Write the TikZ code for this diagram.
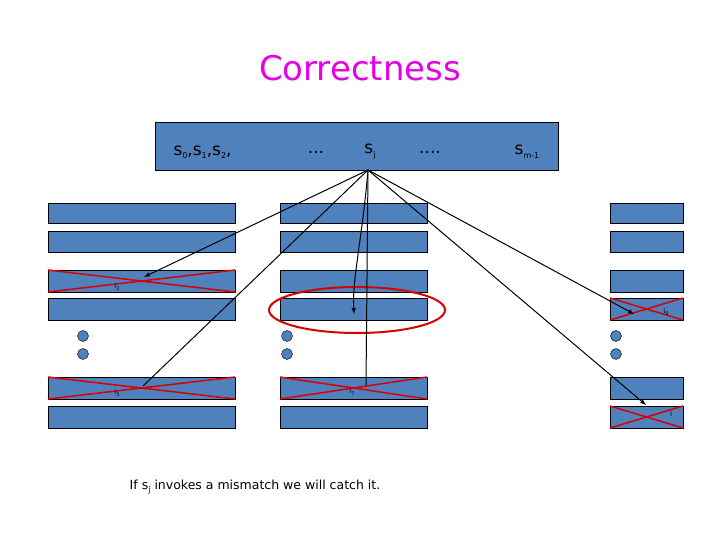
\documentclass[tikz,border=0pt]{standalone}
\usepackage{fontspec}
\setmainfont{DejaVu Sans}
\begin{document}
\begin{tikzpicture}[x=1pt,y=-1pt,
  bar/.style={draw=black,fill={rgb,255:red,79;green,129;blue,189},line width=0.6pt},
  dotc/.style={circle,draw=black,fill={rgb,255:red,79;green,129;blue,189},minimum size=11pt,inner sep=0pt,line width=0.4pt},
  cross/.style={draw=red!85!black,line width=1.5pt},
  conn/.style={draw=black,line width=1pt},
  arr/.style={conn,-latex},
  lab/.style={font=\fontsize{7}{8}\selectfont,inner sep=0pt}]
\useasboundingbox (0,0) rectangle (720,540);
\node[text={rgb,255:red,230;green,0;blue,230},font=\fontsize{34}{40}\selectfont] (title) at (360,68) {Correctness};
\draw[bar] (155,122) rectangle (558,170);
\node[font=\fontsize{17}{20}\selectfont,anchor=west] (s0) at (170,152) {s\raisebox{-3pt}{\footnotesize 0},s\raisebox{-3pt}{\footnotesize 1},s\raisebox{-3pt}{\footnotesize 2},};
\node[font=\fontsize{17}{20}\selectfont] (d1) at (316,152) {...};
\node[font=\fontsize{17}{20}\selectfont] (sj) at (370,152) {s\raisebox{-4pt}{\footnotesize j}};
\node[font=\fontsize{17}{20}\selectfont] (d2) at (430,152) {....};
\node[font=\fontsize{17}{20}\selectfont] (sm) at (527,152) {s\raisebox{-4pt}{\footnotesize m-1}};
\coordinate (src) at (368,170);
\foreach \xa/\xb/\n in {48/235/L,280/427/M,610/683/R}{
  \foreach \ya/\yb/\k in {203/223/1,231/252/2,270/292/3,298/320/4,377/399/5,406/428/6}{
    \draw[bar] (\xa,\ya) rectangle (\xb,\yb);
  }
}
\node[dotc] (dl1) at (83,336) {}; \node[dotc] (dl2) at (83,354) {};
\node[dotc] (dm1) at (287,336) {}; \node[dotc] (dm2) at (287,354) {};
\node[dotc] (dr1) at (616,336) {}; \node[dotc] (dr2) at (616,354) {};
\foreach \xa/\xb/\ya/\yb in {48/235/270/292,48/235/377/399,280/427/377/399,610/683/298/320,610/683/406/428}{
  \draw[cross] (\xa,\ya) -- (\xb,\yb); \draw[cross] (\xa,\yb) -- (\xb,\ya);
}
\draw[red!85!black,line width=2pt] (357,310) ellipse (88 and 23);
\node[lab] (i2) at (117,287) {i\raisebox{-2pt}{\tiny 2}};
\node[lab] (i5) at (117,393) {i\raisebox{-2pt}{\tiny 5}};
\node[lab] (i7) at (352,392) {i\raisebox{-2pt}{\tiny 7}};
\node[lab] (i9) at (666,312) {i\raisebox{-2pt}{\tiny 9}};
\node[lab] (ii) at (671,414) {i};
\coordinate (t2) at (144,277);
\coordinate (t5) at (143,386);
\coordinate (tm) at (354,314);
\coordinate (t7) at (366,385);
\coordinate (t9) at (634,314);
\coordinate (ti) at (646,405);
\draw[arr] (src) -- (t2);
\draw[conn] (src) -- (t5);
\draw[arr] (src) .. controls (362,240) and (352,280) .. (tm);
\draw[conn] (src) -- (t7);
\draw[arr] (src) -- (t9);
\draw[arr] (src) -- (ti);
\node[font=\fontsize{12.5}{15}\selectfont] (txt) at (255,487) {If s\raisebox{-3pt}{\footnotesize j} invokes a mismatch we will catch it.};
\end{tikzpicture}
\end{document}
